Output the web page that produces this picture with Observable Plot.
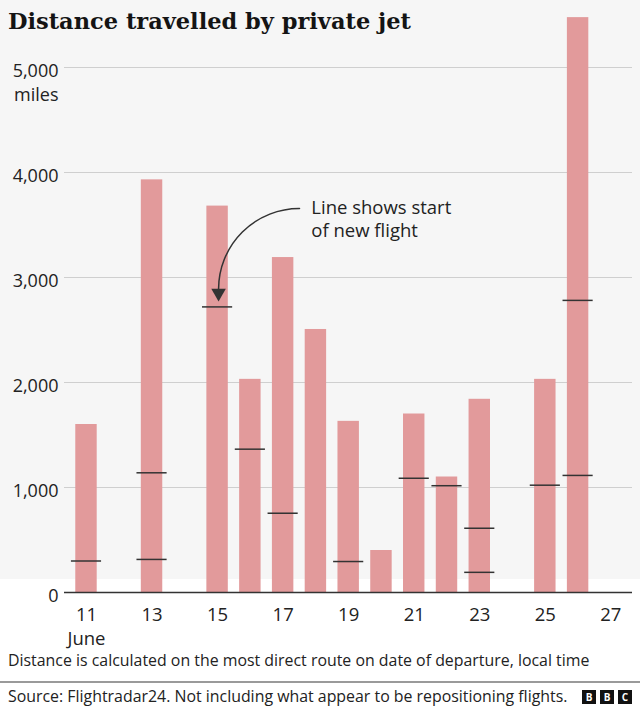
<!DOCTYPE html>
<html>
<head>
<meta charset="utf-8">
<script src="https://cdn.jsdelivr.net/npm/d3@7"></script>
<script src="https://cdn.jsdelivr.net/npm/@observablehq/plot@0.6"></script>
<style>
  html, body { margin: 0; padding: 0; }
  body {
    width: 640px; height: 713px; position: relative; overflow: hidden;
    background: linear-gradient(to bottom, #f6f6f6 0px, #f6f6f6 579px, #ffffff 579px);
    font-family: "Open Sans", Roboto, sans-serif; color: #222;
  }
  #chart { position: absolute; left: 0; top: 0; }
  .abs { position: absolute; line-height: 1; white-space: nowrap; }
  #title { left: 8px; top: 10px; font-family: "DejaVu Serif", serif; font-size: 22.5px; font-weight: bold; color: #141414; }
  #note { left: 8px; top: 653px; font-size: 15.9px; color: #222; }
  #sep { position: absolute; left: 0; top: 681px; width: 640px; height: 1.5px; background: #9a9a9a; }
  #source { left: 8px; top: 689px; font-size: 15.9px; color: #222; }
  #logo { position: absolute; left: 582px; top: 690px; display: flex; gap: 4px; }
  #logo span { width: 14px; height: 14px; background: #111; color: #fff; font: bold 10px "Open Sans", sans-serif; display: flex; align-items: center; justify-content: center; }
</style>
</head>
<body>
<div id="chart"></div>
<div id="title" class="abs">Distance travelled by private jet</div>
<div id="note" class="abs">Distance is calculated on the most direct route on date of departure, local time</div>
<div id="sep"></div>
<div id="source" class="abs">Source: Flightradar24. Not including what appear to be repositioning flights.</div>
<div id="logo"><span>B</span><span>B</span><span>C</span></div>
<script>
// Daily total distance (miles), June
const days      = [11, 13, 15, 16, 17, 18, 19, 20, 21, 22, 23, 25, 26];
const distances = [1600, 3930, 3680, 2030, 3190, 2505, 1630, 400, 1700, 1100, 1840, 2030, 5475];

// Cumulative distance at which a new flight starts
const startDays  = [11, 13, 13, 15, 16, 17, 19, 21, 22, 23, 23, 25, 26, 26];
const startMiles = [300, 315, 1140, 2720, 1365, 755, 295, 1088, 1017, 612, 192, 1022, 1115, 2782];

// Axis ticks
const xTicks = [11, 13, 15, 17, 19, 21, 23, 25, 27];
const yTicks = [0, 1000, 2000, 3000, 4000, 5000];

// Annotation
const noteText = "Line shows start\nof new flight";
const noteDay = 17.86, noteMiles = 3657;
const arrowFromDay = 17.5, arrowFromMiles = 3657, arrowToDay = 15.03, arrowToMiles = 2890;
const headDay = 15.03, headMiles = 2852;

const bars = days.map((d, i) => ({day: d, miles: distances[i]}));
const starts = startDays.map((d, i) => ({day: d, miles: startMiles[i]}));
const annot = [{}];

const fmt = d3.format(",");
const chart = Plot.plot({
  width: 640,
  height: 650,
  marginTop: 14.5,
  marginBottom: 58,
  marginLeft: 64,
  marginRight: 8,
  x: {domain: [10.329, 27.66]},
  y: {domain: [0, 5500]},
  style: {background: "transparent", fontFamily: "'Open Sans', Roboto, sans-serif", color: "#222", overflow: "visible"},
  marks: [
    Plot.ruleY(yTicks.filter(d => d > 0), {stroke: "#cfcfcf", strokeWidth: 1}),
    Plot.rectY(bars, {x1: d => d.day - 0.327, x2: d => d.day + 0.327, y: "miles", fill: "#e29a9b"}),
    Plot.ruleY(starts, {y: "miles", x1: d => d.day - 0.46, x2: d => d.day + 0.46, stroke: "#333", strokeWidth: 1.5}),
    Plot.ruleY([0], {stroke: "#333", strokeWidth: 1.5}),
    Plot.axisY({ticks: yTicks, tickSize: 0, tickPadding: 6, label: null,
      tickFormat: d => d === 5000 ? "5,000\nmiles" : fmt(d),
      lineAnchor: "top", dy: -7, lineHeight: 1.3, fontSize: 18}),
    Plot.axisX({ticks: xTicks, tickSize: 0, tickPadding: 11, label: null,
      tickFormat: d => d === 11 ? "11\nJune" : String(d),
      lineHeight: 1.3, fontSize: 18.5}),
    Plot.arrow(annot, {x1: () => arrowFromDay, y1: () => arrowFromMiles, x2: () => arrowToDay, y2: () => arrowToMiles,
      bend: -45, headLength: 0, stroke: "#333", strokeWidth: 1.5}),
    Plot.dot(annot, {x: () => headDay, y: () => headMiles, symbol: "triangle", r: 5.4, fill: "#333", stroke: null, rotate: 180}),
    Plot.text(annot, {x: () => noteDay, y: () => noteMiles, text: () => noteText, textAnchor: "start",
      lineAnchor: "top", dy: -11.5, lineHeight: 1.28, fontSize: 18.5, fill: "#222"})
  ]
});
document.getElementById("chart").appendChild(chart);
</script>
</body>
</html>
